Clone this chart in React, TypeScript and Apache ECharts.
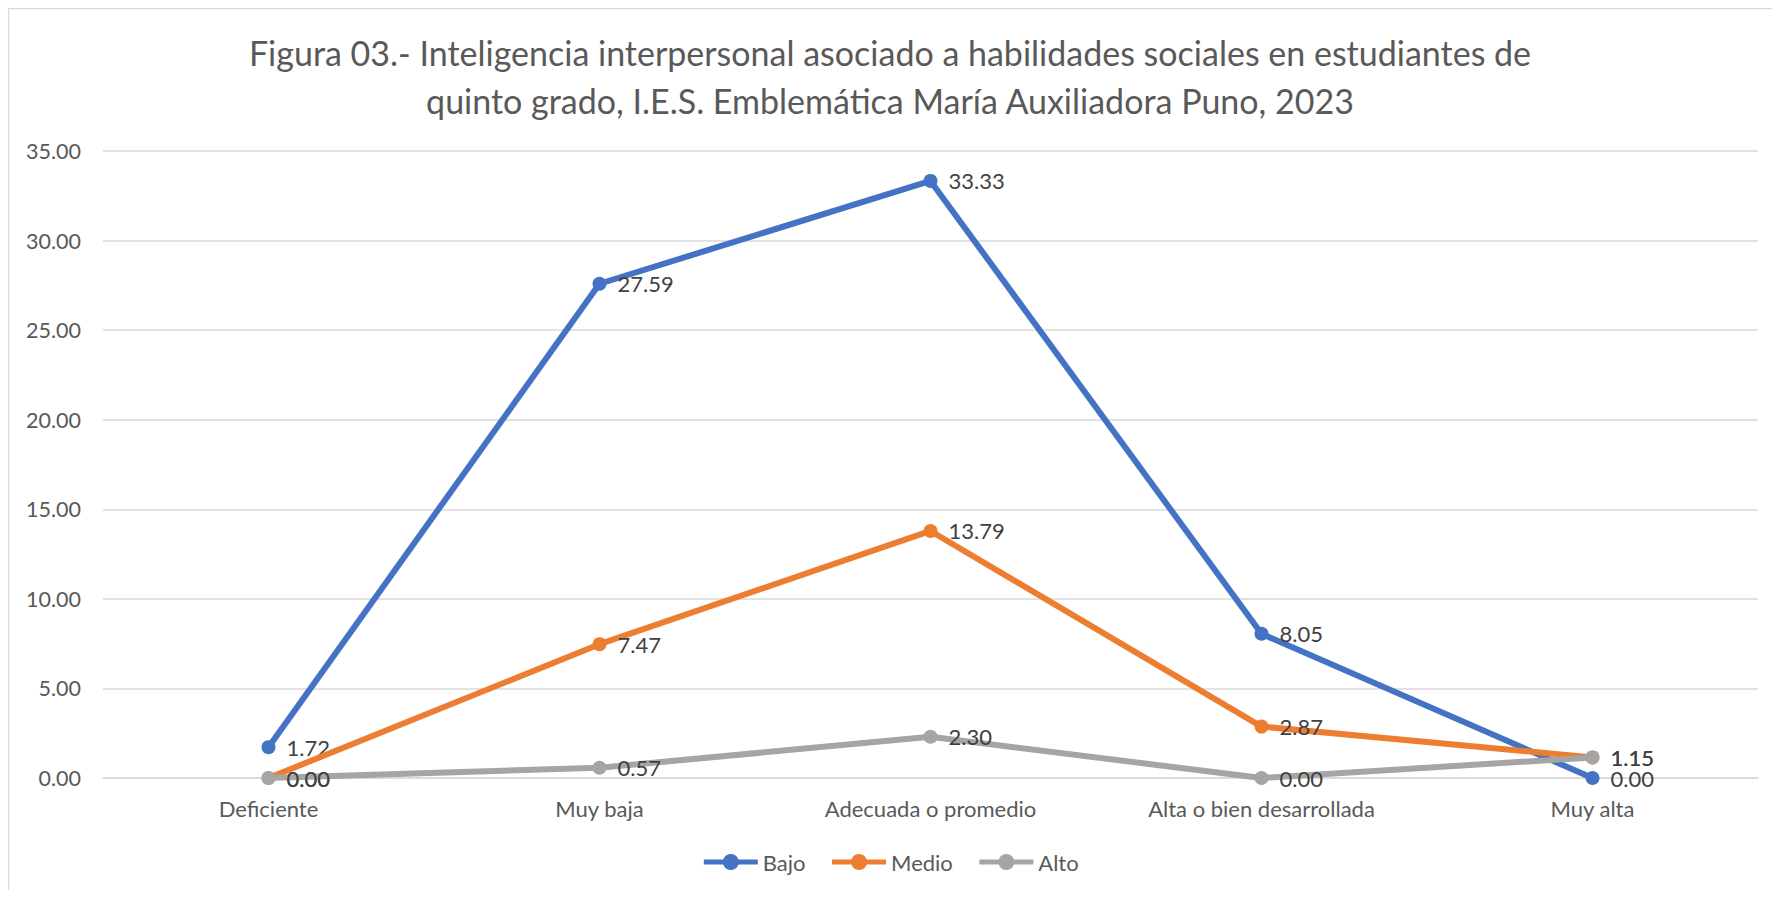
import React, { useEffect, useRef } from "react";
import * as echarts from "echarts";

const categories = ["Deficiente", "Muy baja", "Adecuada o promedio", "Alta o bien desarrollada", "Muy alta"];
const bajo = [1.72, 27.59, 33.33, 8.05, 0.0];
const medio = [0.0, 7.47, 13.79, 2.87, 1.15];
const alto = [0.0, 0.57, 2.3, 0.0, 1.15];
const seriesNames = ["Bajo", "Medio", "Alto"];
const colors = ["#4472C4", "#ED7D31", "#A5A5A5"];
const titleText =
  "Figura 03.- Inteligencia interpersonal asociado a habilidades sociales en estudiantes de\nquinto grado, I.E.S. Emblemática María Auxiliadora Puno, 2023";

const FONT = "Lato";

export default function App() {
  const ref = useRef<HTMLDivElement>(null);
  useEffect(() => {
    if (!ref.current) return;
    const chart = echarts.init(ref.current, null, { renderer: "svg" });
    const values = [bajo, medio, alto];
    chart.setOption({
      animation: false,
      backgroundColor: "#ffffff",
      textStyle: { fontFamily: FONT },
      title: {
        text: titleText,
        left: "center",
        top: 15,
        textStyle: {
          fontFamily: FONT,
          fontSize: 34,
          fontWeight: "normal",
          color: "#595959",
          lineHeight: 48,
        },
      },
      graphic: [
        { type: "line", shape: { x1: 0.5, y1: 0, x2: 0.5, y2: 900 }, style: { stroke: "#D9D9D9", lineWidth: 1.5 } },
        { type: "line", shape: { x1: 0, y1: 0.5, x2: 1800, y2: 0.5 }, style: { stroke: "#D9D9D9", lineWidth: 1.5 } },
      ],
      legend: {
        top: 838,
        left: "center",
        itemWidth: 54,
        itemHeight: 20,
        itemGap: 24,
        lineStyle: { width: 5 },
        textStyle: { fontFamily: FONT, fontSize: 22, color: "#595959" },
        data: seriesNames,
      },
      grid: { left: 95, right: 14, top: 143, bottom: 112, containLabel: false },
      xAxis: {
        type: "category",
        data: categories,
        boundaryGap: true,
        axisLine: { lineStyle: { color: "#D9D9D9", width: 1.5 } },
        axisTick: { show: false },
        axisLabel: { fontFamily: FONT, fontSize: 22, color: "#595959", margin: 19 },
      },
      yAxis: {
        type: "value",
        min: 0,
        max: 35,
        interval: 5,
        axisLine: { show: false },
        axisTick: { show: false },
        splitLine: { lineStyle: { color: "#D9D9D9", width: 1.5 } },
        axisLabel: {
          fontFamily: FONT,
          fontSize: 21.5,
          color: "#595959",
          margin: 22,
          formatter: (v: number) => v.toFixed(2),
        },
      },
      series: seriesNames.map((name, i) => ({
        name,
        type: "line",
        data: values[i],
        color: colors[i],
        symbol: "circle",
        symbolSize: 14,
        lineStyle: { width: 6, color: colors[i] },
        itemStyle: { color: colors[i] },
        label: {
          show: true,
          position: "right",
          distance: 11,
          fontFamily: FONT,
          fontSize: 22,
          color: "#404040",
          formatter: (p: any) => Number(p.value).toFixed(2),
        },
        z: 2 + i,
      })),
    });
    return () => chart.dispose();
  }, []);
  return <div ref={ref} style={{ width: 1764, height: 882 }} />;
}
